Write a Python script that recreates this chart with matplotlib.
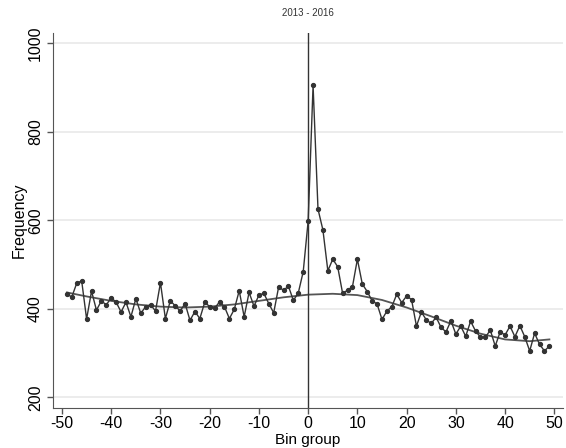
import numpy as np
import matplotlib.pyplot as plt

plt.rcParams['font.family'] = ['Liberation Sans', 'DejaVu Sans']
plt.rcParams['axes.unicode_minus'] = False

bins = list(range(-49, 50))
freq = [
    433, 427, 458, 463, 377, 440, 397, 418, 409, 425,   # -49 .. -40
    415, 393, 415, 382, 423, 390, 405, 409, 395, 459,   # -39 .. -30
    378, 418, 407, 395, 412, 374, 394, 378, 415, 405,   # -29 .. -20
    401, 416, 405, 378, 399, 441, 382, 437, 406, 431,   # -19 .. -10
    435, 412, 391, 449, 442, 451, 419, 436, 484, 598,   #  -9 ..  0
    904, 625, 578, 486, 512, 495, 435, 442, 450, 512,   #   1 .. 10
    456, 439, 418, 411, 376, 395, 405, 433, 414, 429,   #  11 .. 20
    421, 361, 393, 375, 367, 381, 358, 348, 373, 343,   #  21 .. 30
    361, 338, 372, 350, 336, 336, 352, 316, 348, 341,   #  31 .. 40
    361, 337, 362, 337, 305, 345, 320, 305, 316,        #  41 .. 49
]

# smooth fitted trend
fit_x = [-49, -45, -40, -35, -30, -25, -20, -15, -10, -5, 0, 5, 10, 15, 20, 25, 30, 35, 40, 45, 49]
fit_y = [437, 428, 418, 410, 405, 403, 405, 410, 418, 426, 432, 434, 431, 420, 403, 383, 362, 344, 331, 327, 331]

xticks = list(range(-50, 51, 10))
yticks = [200, 400, 600, 800, 1000]

fig = plt.figure(figsize=(5.66, 4.48), dpi=100)
ax = fig.add_axes([0.093, 0.089, 0.902, 0.837])

for yv in yticks:
    ax.axhline(yv, color='#ececec', lw=1.4, zorder=0)

ax.plot(fit_x, fit_y, '-', color='#555555', lw=1.3, zorder=2)
ax.plot(bins, freq, '-o', color='#333333', lw=1.0, ms=2.8, zorder=3)
ax.axvline(0, color='#333333', lw=1.0, zorder=4)

ax.set_xlim(-51.9, 51.8)
ax.set_ylim(176, 1022)
ax.set_xticks(xticks)
ax.set_yticks(yticks)
ax.set_yticklabels([str(v) for v in yticks], rotation=90, va='center')
ax.tick_params(axis='both', labelsize=11.5, color='#555555', length=4, width=1)
ax.tick_params(axis='x', pad=2)
ax.tick_params(axis='y', pad=3)

ax.spines['top'].set_visible(False)
ax.spines['right'].set_visible(False)
ax.spines['left'].set_color('#555555')
ax.spines['bottom'].set_color('#555555')

ax.set_xlabel('Bin group', fontsize=11, labelpad=1)
ax.set_ylabel('Frequency', fontsize=11.5, labelpad=1)

ax.text(0, 1.04, '2013 - 2016', transform=ax.get_xaxis_transform(),
        ha='center', va='bottom', fontsize=7, color='#333333')

fig.savefig('out.png', dpi=100)
